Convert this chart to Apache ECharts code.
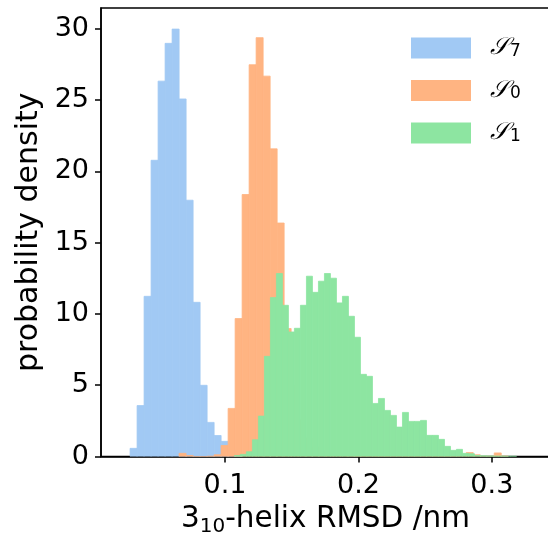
<!DOCTYPE html>
<html>
<head>
<meta charset="utf-8">
<script src="https://cdn.jsdelivr.net/npm/echarts@6/dist/echarts.min.js"></script>
<style>html,body{margin:0;padding:0;background:#fff}#c{width:548px;height:536px}</style>
</head>
<body>
<div id="c"></div>
<script>
// ---- data ----
const seriesNames = ['S7', 'S0', 'S1'];
const legendSubs = ['7', '0', '1'];
const xTicks = [0.1, 0.2, 0.3];
const yTicks = [0, 5, 10, 15, 20, 25, 30];

// S7 histogram: bin edges and densities
const s7Edges = [0.0288,0.03405,0.0393,0.04455,0.0498,0.05505,0.0603,0.06555,0.0708,0.07605,0.0813,0.08655,0.0918,0.09705,0.1023,0.10755,0.1128];
const s7Heights = [0.6,3.6,11.26,20.8,26.35,29.0,30.0,25.1,18.0,10.84,5.02,2.42,1.5,1.09,0.5,0.15];

// S0 histogram
const s0Edges = [0.06555,0.0708,0.07605,0.0813,0.08655,0.0918,0.09705,0.1023,0.10755,0.1128,
  0.11805,0.1233,0.12855,0.1338,0.13905,0.1443,0.14955,0.1548,0.16005,0.1653,
  0.17055,0.1758,0.18105,0.1863,0.19155,0.1968,0.20205,0.2073,0.21255,0.2178,
  0.22305,0.2283,0.23355,0.2388,0.24405,0.2493,0.25455,0.2598,0.26505,0.2703,
  0.27555,0.2808,0.28605,0.2913,0.29655,0.3018,0.30705,0.3123];
const s0Heights = [0.25,0.1,0.03,0.02,0.05,0.15,0.8,3.4,9.7,18.4,
  27.5,29.4,26.7,21.6,16.4,9.0,5.0,2.6,1.3,0.7,
  0.4,0.25,0.15,0.1,0.08,0.06,0.05,0.05,0.04,0.04,
  0.03,0.03,0.03,0.02,0.02,0.02,0.02,0.02,0.02,0.05,
  0.1,0.3,0.15,0.05,0.05,0.28,0.06];

// S1 histogram
const s1Edges = [0.1070,0.1115,0.1160,0.1205,0.1250,0.1295,0.1340,0.1385,0.1430,0.1475,
  0.1520,0.1565,0.1610,0.1655,0.1700,0.1745,0.1790,0.1835,0.1880,0.1925,
  0.1970,0.2015,0.2060,0.2105,0.2150,0.2195,0.2240,0.2285,0.2330,0.2375,
  0.2420,0.2465,0.2510,0.2555,0.2600,0.2645,0.2690,0.2735,0.2780,0.2825,
  0.2870,0.2915,0.2960,0.3005,0.3050,0.3095,0.3140,0.3185];
const s1Heights = [0.1,0.18,0.36,1.2,2.86,7.05,11.17,12.86,10.63,8.76,
  9.02,10.63,12.67,11.54,12.32,12.86,12.53,10.8,11.26,9.86,
  8.39,5.79,5.65,3.75,4.1,3.26,2.91,2.09,3.12,2.49,
  2.49,2.56,1.51,1.51,1.23,0.74,0.46,0.53,0.25,0.22,
  0.1,0.08,0.07,0.06,0.06,0.05,0.05];

const colors = ['#a1c9f4', '#ffb482', '#8de5a1'];

function toBins(edges, heights) {
  return heights.map((h, i) => [edges[i], edges[i + 1], h]);
}

function renderItem(params, api) {
  const a = api.coord([api.value(0), api.value(2)]);
  const b = api.coord([api.value(1), 0]);
  const c = api.visual('color');
  return {
    type: 'rect',
    shape: { x: a[0], y: a[1] + 0.4, width: b[0] - a[0], height: b[1] - a[1] - 0.4 },
    style: { fill: c, stroke: c, lineWidth: 0.8 }
  };
}

const FONT = 'DejaVu Sans';
const allBins = [toBins(s7Edges, s7Heights), toBins(s0Edges, s0Heights), toBins(s1Edges, s1Heights)];

const chart = echarts.init(document.getElementById('c'), null, { renderer: 'canvas' });
chart.setOption({
  animation: false,
  backgroundColor: '#fff',
  grid: { left: 101, right: -2, top: 8, bottom: 79.5, show: true, borderColor: '#000', borderWidth: 1.5, backgroundColor: 'transparent', containLabel: false, outerBoundsMode: 'none' },
  legend: {
    orient: 'vertical', left: 406, top: 30,
    itemWidth: 60, itemHeight: 21, itemGap: 17.5,
    icon: 'rect',
    data: seriesNames,
    formatter: function (name) {
      const i = seriesNames.indexOf(name);
      return '{s|𝒮}{sub|' + legendSubs[i] + '}';
    },
    textStyle: {
      rich: {
        s: { fontFamily: 'DejaVu Serif', fontStyle: 'italic', fontSize: 24, color: '#000', padding: [0, 0, 0, 14], lineHeight: 24 },
        sub: { fontFamily: FONT, fontSize: 17, color: '#000', verticalAlign: 'bottom', padding: [8, 0, 0, 1], lineHeight: 24 }
      }
    }
  },
  xAxis: {
    type: 'value', min: 0.007, max: 0.3436,
    name: '{a|3}{b|10}{a|-helix RMSD /nm}',
    nameLocation: 'middle', nameGap: 45,
    nameTextStyle: {
      rich: {
        a: { fontFamily: FONT, fontSize: 29.5, color: '#000' },
        b: { fontFamily: FONT, fontSize: 20, color: '#000', padding: [14, 0, 0, 0] }
      }
    },
    axisLine: { show: true, lineStyle: { color: '#000', width: 1.5 } },
    axisTick: { show: true, length: 6, lineStyle: { color: '#000', width: 1.5 }, customValues: xTicks },
    axisLabel: { customValues: xTicks, fontFamily: FONT, fontSize: 27, color: '#000', margin: 16, formatter: v => v.toFixed(1) },
    splitLine: { show: false }
  },
  yAxis: {
    type: 'value', min: 0, max: 31.45,
    name: 'probability density',
    nameLocation: 'middle', nameGap: 56,
    nameTextStyle: { fontFamily: FONT, fontSize: 30, color: '#000' },
    axisLine: { show: true, lineStyle: { color: '#000', width: 1.5 } },
    axisTick: { show: true, length: 6, lineStyle: { color: '#000', width: 1.5 }, customValues: yTicks },
    axisLabel: { customValues: yTicks, fontFamily: FONT, fontSize: 27, color: '#000', margin: 12 },
    splitLine: { show: false }
  },
  series: seriesNames.map((n, i) => ({
    name: n,
    type: 'custom',
    renderItem: renderItem,
    itemStyle: { color: colors[i] },
    encode: { x: [0, 1], y: 2 },
    clip: true,
    data: allBins[i]
  }))
});
</script>
</body>
</html>
